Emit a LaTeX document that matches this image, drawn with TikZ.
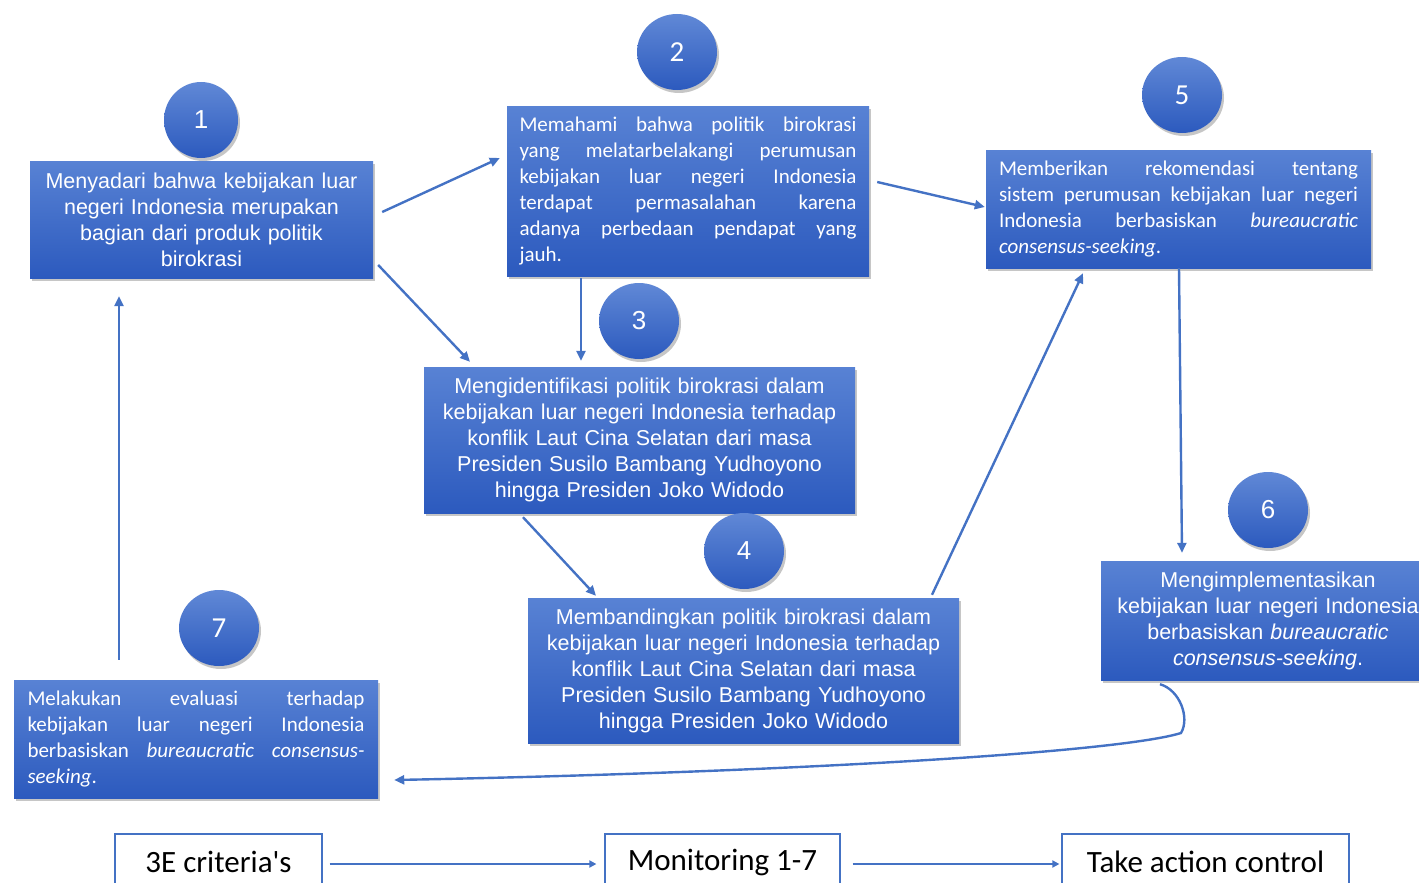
\documentclass[tikz,border=0pt]{standalone}
\usepackage{fontspec}
\setmainfont{Liberation Sans}
\newfontfamily\calib{Carlito}
\usetikzlibrary{arrows.meta,shadows,shapes.geometric}
\definecolor{accent}{RGB}{68,114,196}
\definecolor{boxtop}{RGB}{88,130,212}
\definecolor{boxbot}{RGB}{44,90,190}
\tikzset{
  stepbox/.style={rectangle,top color=boxtop,bottom color=boxbot,text=white,inner sep=0pt,
    drop shadow={opacity=0.45,shadow xshift=2pt,shadow yshift=-3pt}},
  numball/.style={ellipse,top color=boxtop!95!white,bottom color=boxbot,text=white,inner sep=0pt,
    minimum width=80pt,minimum height=76pt,font=\fontsize{26}{30}\selectfont,
    drop shadow={opacity=0.45,shadow xshift=2pt,shadow yshift=-3pt}},
  artext/.style={font=\fontsize{21.5}{26}\selectfont,align=center},
  cltext/.style={font=\calib\fontsize{21}{26}\selectfont,align=justify},
  crit/.style={rectangle,draw=accent,line width=1.2pt,fill=white,minimum height=56pt,
    font=\calib\fontsize{31}{36}\selectfont},
  flow/.style={draw=accent,line width=2.4pt,-{Triangle[length=10pt,width=9pt]}},
  thinflow/.style={draw=accent,line width=1.8pt,-{Triangle[length=7pt,width=7pt]}}
}
\tolerance=10000
\hbadness=10000
\begin{document}
\begin{tikzpicture}[x=1pt,y=-1pt]
\useasboundingbox (0,0) rectangle (1419,883);
\node[stepbox,artext,minimum width=343pt,minimum height=117pt,text width=335pt] (b1) at (201.5,219.5)
  {Menyadari bahwa kebijakan luar\\negeri Indonesia merupakan\\bagian dari produk politik\\birokrasi};
\node[stepbox,cltext,minimum width=362pt,minimum height=170pt,text width=337pt] (b2) at (688,191)
  {Memahami bahwa politik birokrasi\linebreak yang melatarbelakangi perumusan\linebreak kebijakan luar negeri Indonesia\linebreak terdapat permasalahan karena\linebreak adanya perbedaan pendapat yang\linebreak jauh.};
\node[stepbox,artext,minimum width=431pt,minimum height=146pt,text width=420pt] (b3) at (639.5,440)
  {Mengidentifikasi politik birokrasi dalam\\kebijakan luar negeri Indonesia terhadap\\konflik Laut Cina Selatan dari masa\\Presiden Susilo Bambang Yudhoyono\\hingga Presiden Joko Widodo};
\node[stepbox,artext,minimum width=431pt,minimum height=145pt,text width=420pt] (b4) at (743.5,670.5)
  {Membandingkan politik birokrasi dalam\\kebijakan luar negeri Indonesia terhadap\\konflik Laut Cina Selatan dari masa\\Presiden Susilo Bambang Yudhoyono\\hingga Presiden Joko Widodo};
\node[stepbox,cltext,minimum width=385pt,minimum height=118pt,text width=359pt] (b5) at (1178.5,209)
  {Memberikan rekomendasi tentang\linebreak sistem perumusan kebijakan luar negeri\linebreak Indonesia berbasiskan \textit{bureaucratic}\linebreak \textit{consensus-seeking}.};
\node[stepbox,artext,minimum width=334pt,minimum height=119pt,text width=325pt] (b6) at (1268,620.5)
  {Mengimplementasikan\\kebijakan luar negeri Indonesia\\berbasiskan \textit{bureaucratic}\\\textit{consensus-seeking}.};
\node[stepbox,cltext,minimum width=364pt,minimum height=118pt,text width=337pt] (b7) at (196,739)
  {Melakukan evaluasi terhadap\linebreak kebijakan luar negeri Indonesia\linebreak berbasiskan \textit{bureaucratic} \textit{consensus-}\linebreak \textit{seeking}.};
\node[numball,minimum width=74pt] (n1) at (201,120) {1};
\node[numball,font=\calib\fontsize{29}{32}\selectfont] (n2) at (677,52) {2};
\node[numball] (n3) at (639,321) {3};
\node[numball] (n4) at (744,551) {4};
\node[numball,font=\calib\fontsize{29}{32}\selectfont] (n5) at (1182,95) {5};
\node[numball] (n6) at (1268,510) {6};
\node[numball,font=\calib\fontsize{29}{32}\selectfont] (n7) at (219,628) {7};
\node[crit,minimum width=207pt] (c1) at (218.5,862) {3E criteria's};
\node[crit,minimum width=235pt] (c2) at (722.5,862) {Monitoring 1-7};
\node[crit,minimum width=287pt] (c3) at (1205.5,862) {Take action control};
\draw[flow] ([shift={(9,-7.5)}]b1.east) -- ([shift={(-7,-33)}]b2.west);
\draw[flow] ([shift={(5,45.5)}]b1.east) -- ([shift={(-169.5,-5)}]b3.north);
\draw[flow] ([shift={(-107,2)}]b2.south) -- ([shift={(-58.5,-6)}]b3.north);
\draw[flow] ([shift={(8,-9)}]b2.east) -- ([shift={(-1,-2)}]b5.west);
\draw[flow] ([shift={(-116.5,4)}]b3.south) -- ([shift={(-147.5,-2)}]b4.north);
\draw[flow] ([shift={(188.5,-3)}]b4.north) -- ([shift={(-95.5,5)}]b5.south);
\draw[flow] ([shift={(0.5,0)}]b5.south) -- ([shift={(-86,-8)}]b6.north);
\draw[flow] ([shift={(-108,4)}]b6.south) .. controls (1180,690) and (1190,718) .. (1181,733)
  .. controls (1120,752) and (800,772) .. ([shift={(16,41)}]b7.east);
\draw[flow] ([shift={(-77,-20)}]b7.north) -- ([shift={(-82.5,18)}]b1.south);
\draw[thinflow] ([shift={(7,2)}]c1.east) -- ([shift={(-8,2)}]c2.west);
\draw[thinflow] ([shift={(12,2)}]c2.east) -- ([shift={(-2,2)}]c3.west);
\end{tikzpicture}
\end{document}
